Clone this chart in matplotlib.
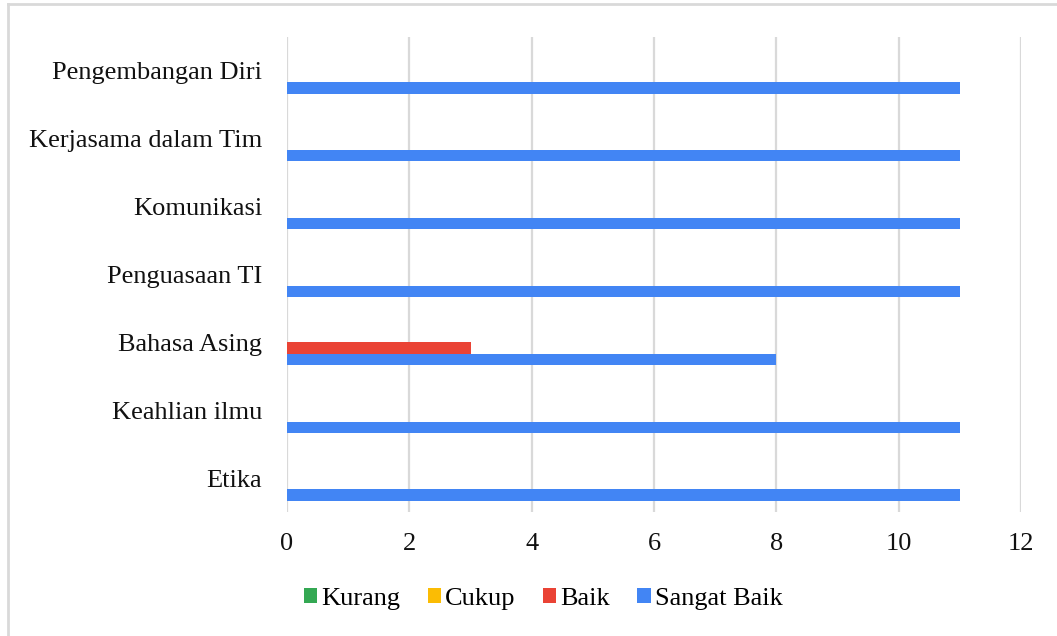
import numpy as np
import matplotlib
matplotlib.use("Agg")
import matplotlib.pyplot as plt
from matplotlib.lines import Line2D

# data (bottom to top as drawn)
categories = ["Etika", "Keahlian ilmu", "Bahasa Asing", "Penguasaan TI",
              "Komunikasi", "Kerjasama dalam Tim", "Pengembangan Diri"]
series_names = ["Kurang", "Cukup", "Baik", "Sangat Baik"]
kurang = [0, 0, 0, 0, 0, 0, 0]
cukup = [0, 0, 0, 0, 0, 0, 0]
baik = [0, 0, 3, 0, 0, 0, 0]
sangat_baik = [11, 11, 8, 11, 11, 11, 11]
colors = ["#34A853", "#FBBC04", "#EA4335", "#4285F4"]

plt.rcParams['font.family'] = ['Liberation Serif', 'DejaVu Serif']

W, H = 1057, 636
fig = plt.figure(figsize=(W / 100, H / 100), dpi=100)
ax = fig.add_axes([287 / W, 1 - 512 / H, (1021 - 287) / W, (512 - 37) / H])

y = np.arange(len(categories))
h = 0.167
for j, (vals, name, c) in enumerate(zip([kurang, cukup, baik, sangat_baik], series_names, colors)):
    ax.barh(y + (1.5 - j) * h, vals, height=h, color=c, linewidth=0, label=name, zorder=3)

ax.set_xlim(0, 12)
ax.set_ylim(-0.5, len(categories) - 0.5)
ax.set_xticks(np.arange(0, 13, 2))
ax.set_yticks(y)
ax.set_yticklabels(categories)
ax.tick_params(axis='both', length=0, labelsize=19, colors='#111111')
ax.tick_params(axis='x', pad=15)
ax.tick_params(axis='y', pad=18)
ax.grid(axis='x', color='#D9D9D9', linewidth=1.6, zorder=0)
for s in ax.spines.values():
    s.set_visible(False)

ax.legend(loc='center', bbox_to_anchor=(543 / W, 1 - 599 / H), bbox_transform=fig.transFigure,
          ncol=4, frameon=False, fontsize=19, handlelength=0.5, handleheight=0.5,
          handletextpad=0.15, columnspacing=1.05)

# outer frame
fig.add_artist(Line2D([8 / W, 8 / W], [0, 1 - 4 / H], transform=fig.transFigure, color='#D9D9D9', lw=2))
fig.add_artist(Line2D([8 / W, 1], [1 - 4 / H, 1 - 4 / H], transform=fig.transFigure, color='#D9D9D9', lw=2))

fig.savefig("out.png", dpi=100)
